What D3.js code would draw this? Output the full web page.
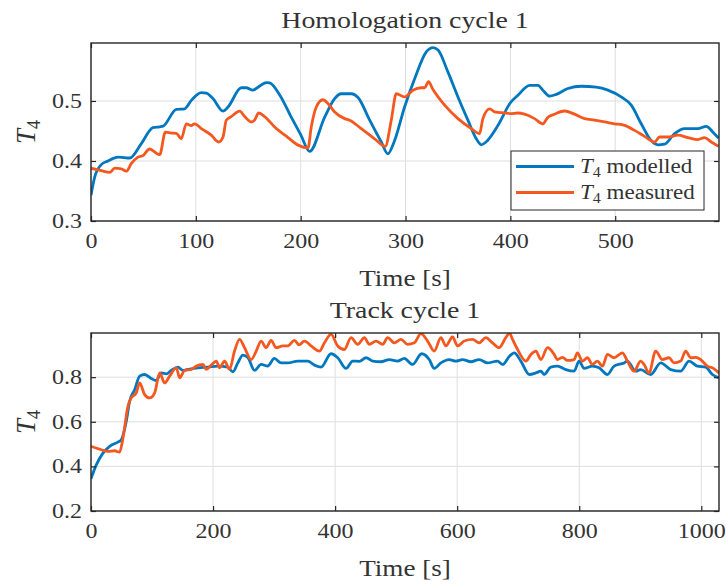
<!DOCTYPE html>
<html>
<head>
<meta charset="utf-8">
<script src="https://cdn.jsdelivr.net/npm/d3@7"></script>
<style>
body { margin: 0; background: #fff; }
text { font-family: "Liberation Serif", "Times New Roman", serif; fill: #333; }
</style>
</head>
<body>
<div id="chart"></div>
<script>
// Homologation cycle 1 - modelled T4
var homModTime = [0, 3.5, 9.8, 16.2, 25.7, 32, 36.9, 48, 59, 65.5, 68.7, 81.4, 89.3, 95.7, 105.2, 110, 116.3, 125.9, 130.7, 143.4, 148, 154.5, 159.3, 167.2, 170.4, 180, 191, 200, 208.5, 222.9, 232.4, 238.7, 248.3, 254.7, 265.8, 276.9, 283.2, 289.6, 299.1, 308.7, 319.8, 326.2, 331, 340.5, 350, 359.5, 367.5, 372.2, 377, 388.1, 400, 407.2, 418.4, 426.3, 431, 437.4, 443.8, 454.9, 467.6, 481.9, 493, 505.7, 515.3, 524.8, 534.3, 540.7, 547, 556.6, 566.2, 578.9, 586.8, 593.2, 598.6];
var homModelled = [0.343, 0.373, 0.394, 0.400, 0.4065, 0.4055, 0.405, 0.429, 0.4556, 0.457, 0.458, 0.486, 0.487, 0.501, 0.514, 0.513, 0.504, 0.483, 0.49, 0.522, 0.522, 0.518, 0.523, 0.5307, 0.530, 0.51, 0.473, 0.444, 0.416, 0.473, 0.504, 0.512, 0.512, 0.5057, 0.468, 0.4316, 0.412, 0.434, 0.49, 0.537, 0.582, 0.589, 0.585, 0.548, 0.5067, 0.468, 0.437, 0.427, 0.432, 0.459, 0.497, 0.5095, 0.526, 0.526, 0.518, 0.508, 0.511, 0.5207, 0.5245, 0.523, 0.518, 0.5067, 0.493, 0.462, 0.434, 0.427, 0.428, 0.4456, 0.454, 0.454, 0.4578, 0.448, 0.438];

// Homologation cycle 1 - measured T4
var homMeasTime = [0, 9.8, 17.8, 22.6, 28.9, 33.7, 38.4, 44.8, 49.6, 55.9, 60.7, 65.5, 70.9, 76.6, 81.4, 86.1, 90.9, 95.7, 98.8, 105.2, 114.7, 121.7, 125.9, 129, 133.8, 141.8, 146.6, 152.9, 156, 159.9, 165.6, 175.2, 187.9, 198, 207, 210.1, 214.9, 221.2, 226, 232.4, 241.9, 246.7, 257.8, 270.5, 280.7, 286.4, 291.2, 299.1, 307.1, 315, 318.2, 321.9, 326.2, 337.3, 350, 362.7, 370.6, 373.8, 380.2, 384.9, 394.5, 400, 407.2, 413.5, 423.1, 431, 435.8, 442.1, 451.7, 461.2, 470.8, 480.3, 489.9, 499.4, 508.9, 518.5, 528, 537.6, 542.3, 550.3, 559.8, 569.3, 578.9, 585.2, 591.6, 598.6];
var homMeasured = [0.388, 0.384, 0.381, 0.388, 0.387, 0.383, 0.3955, 0.4065, 0.409, 0.42, 0.415, 0.4105, 0.448, 0.4466, 0.446, 0.437, 0.462, 0.459, 0.462, 0.454, 0.443, 0.4316, 0.44, 0.468, 0.474, 0.483, 0.474, 0.465, 0.468, 0.48, 0.474, 0.4566, 0.439, 0.426, 0.422, 0.4566, 0.49, 0.502, 0.4957, 0.4816, 0.4706, 0.468, 0.454, 0.437, 0.4244, 0.468, 0.512, 0.5067, 0.518, 0.522, 0.522, 0.532, 0.519, 0.493, 0.4706, 0.454, 0.4456, 0.4706, 0.487, 0.482, 0.48, 0.479, 0.48, 0.478, 0.4706, 0.462, 0.473, 0.478, 0.4833, 0.478, 0.4706, 0.468, 0.465, 0.462, 0.4594, 0.451, 0.441, 0.4316, 0.44, 0.44, 0.443, 0.439, 0.4356, 0.439, 0.4316, 0.4244];

// Track cycle 1 - modelled T4
var trkModTime = [0, 8.7, 19.6, 30.6, 44.2, 49.6, 57.8, 63.3, 71.5, 79.7, 87.9, 98.7, 106.9, 115.1, 123.3, 131.4, 142.4, 150.5, 158.7, 175.1, 191.5, 207.9, 224.2, 232.4, 240.6, 248.8, 257, 267.9, 278.7, 289.6, 300.5, 311.5, 322.4, 338.8, 355.2, 366.1, 377, 393.3, 404.3, 417.9, 428.8, 439.7, 450.6, 461.5, 475.1, 488.8, 502.4, 513.3, 526.9, 541.7, 554.2, 562.4, 573.3, 586.9, 597.8, 608.7, 622.4, 636, 649.6, 666, 674.3, 686, 693.5, 704.3, 718, 728.9, 737.1, 742.5, 753.4, 764.3, 777.9, 791.6, 799.8, 808, 821.6, 832.5, 846.2, 857.1, 873.5, 878.9, 892.5, 900.7, 917.1, 933.5, 949.9, 966.2, 979.9, 993.5, 1007.2, 1018.1, 1029];
var trkModelled = [0.345, 0.407, 0.4596, 0.49, 0.509, 0.519, 0.602, 0.692, 0.744, 0.8046, 0.812, 0.794, 0.785, 0.819, 0.815, 0.83, 0.845, 0.83, 0.8345, 0.842, 0.845, 0.8495, 0.845, 0.824, 0.864, 0.899, 0.888, 0.83, 0.857, 0.85, 0.884, 0.864, 0.864, 0.872, 0.872, 0.854, 0.845, 0.905, 0.887, 0.839, 0.872, 0.871, 0.887, 0.872, 0.869, 0.879, 0.872, 0.884, 0.857, 0.905, 0.879, 0.839, 0.864, 0.879, 0.872, 0.879, 0.869, 0.879, 0.864, 0.872, 0.857, 0.895, 0.909, 0.872, 0.812, 0.819, 0.827, 0.812, 0.845, 0.8495, 0.834, 0.827, 0.872, 0.839, 0.8495, 0.842, 0.812, 0.8495, 0.864, 0.872, 0.827, 0.834, 0.812, 0.864, 0.834, 0.827, 0.872, 0.8495, 0.845, 0.812, 0.797];

// Track cycle 1 - measured T4
var trkMeasTime = [0, 16.9, 27.8, 38.7, 46.9, 52.4, 60.6, 66, 74.2, 79.7, 87.9, 96.1, 104.3, 112.5, 120.7, 128.8, 139.8, 145.2, 153.4, 164.3, 172.5, 183.5, 188.9, 197.1, 205.3, 210.7, 218.9, 227, 235.2, 243.4, 251.6, 262.5, 270.7, 278.7, 286.9, 295.1, 303.3, 314.2, 322.4, 333.4, 341, 349.7, 360.7, 374.3, 382.5, 393.3, 404.3, 415.2, 426.1, 437, 447.9, 456.1, 467, 477.9, 486.1, 497, 507.9, 518.8, 529.7, 540.6, 551.5, 562.4, 573.3, 581.5, 592.4, 600.6, 611.5, 625.1, 636, 646.9, 657.8, 668.7, 679.6, 686, 690.7, 699, 712.6, 720.8, 729, 737.1, 748, 758.9, 764.3, 772.5, 780.7, 791.6, 797, 805.2, 813.4, 821.6, 829.8, 838, 846.2, 857.1, 870.7, 878.9, 889.8, 900.7, 906.2, 914.3, 925.3, 936.2, 947.1, 955.3, 966.2, 974.4, 982.6, 990.8, 999, 1009.8, 1018.1, 1029];
var trkMeasured = [0.49, 0.4745, 0.467, 0.47, 0.464, 0.527, 0.67, 0.707, 0.73, 0.774, 0.722, 0.707, 0.73, 0.819, 0.774, 0.8046, 0.842, 0.797, 0.83, 0.8345, 0.8495, 0.857, 0.8345, 0.854, 0.872, 0.842, 0.872, 0.8345, 0.917, 0.969, 0.932, 0.879, 0.917, 0.962, 0.932, 0.965, 0.932, 0.94, 0.94, 0.965, 0.945, 0.962, 0.94, 0.917, 0.954, 0.992, 0.94, 0.924, 0.977, 0.947, 0.977, 0.947, 0.962, 0.947, 0.977, 0.954, 0.969, 0.947, 0.954, 0.995, 0.962, 0.917, 0.977, 0.94, 0.98, 0.94, 0.962, 0.969, 0.954, 0.977, 0.954, 0.932, 0.977, 0.997, 0.969, 0.924, 0.872, 0.902, 0.917, 0.879, 0.932, 0.902, 0.879, 0.889, 0.875, 0.879, 0.909, 0.872, 0.887, 0.857, 0.872, 0.8495, 0.902, 0.887, 0.909, 0.872, 0.827, 0.872, 0.857, 0.819, 0.917, 0.879, 0.887, 0.864, 0.872, 0.917, 0.887, 0.889, 0.879, 0.8495, 0.842, 0.819];

// ticks
var homXTicks = [0, 100, 200, 300, 400, 500];
var homYTicks = [0.3, 0.4, 0.5];
var trkXTicks = [0, 200, 400, 600, 800, 1000];
var trkYTicks = [0.2, 0.4, 0.6, 0.8];

var seriesNames = ["modelled", "measured"];
var colors = ["#0077bf", "#f4581f"];

var width = 726, height = 585;
var svg = d3.select("#chart").append("svg")
    .attr("width", width)
    .attr("height", height);

// stretch text horizontally (the reference is rendered wide)
function widen(sel, k) {
    sel.each(function() {
        var len = this.getComputedTextLength();
        d3.select(this)
            .attr("textLength", len * k)
            .attr("lengthAdjust", "spacingAndGlyphs");
    });
}

function drawPanel(p) {
    var g = svg.append("g")
        .attr("transform", "translate(" + p.left + "," + p.top + ")");

    var x = d3.scaleLinear().domain(p.xDomain).range([0, p.w]);
    var y = d3.scaleLinear().domain(p.yDomain).range([p.h, 0]);

    // grid
    g.append("g").selectAll("line").data(p.xTicks).enter().append("line")
        .attr("x1", function(d) { return x(d); })
        .attr("x2", function(d) { return x(d); })
        .attr("y1", 0).attr("y2", p.h)
        .attr("stroke", "#dedede").attr("stroke-width", 1);
    g.append("g").selectAll("line").data(p.yTicks).enter().append("line")
        .attr("y1", function(d) { return y(d); })
        .attr("y2", function(d) { return y(d); })
        .attr("x1", 0).attr("x2", p.w)
        .attr("stroke", "#dedede").attr("stroke-width", 1);

    // lines
    var clipId = "clip-" + p.id;
    g.append("clipPath").attr("id", clipId)
        .append("rect").attr("width", p.w).attr("height", p.h);

    var line = d3.line()
        .curve(d3.curveMonotoneX)
        .x(function(d) { return x(d[0]); })
        .y(function(d) { return y(d[1]); });

    p.series.forEach(function(s, i) {
        var pts = s.t.map(function(t, j) { return [t, s.v[j]]; });
        g.append("path")
            .datum(pts)
            .attr("clip-path", "url(#" + clipId + ")")
            .attr("fill", "none")
            .attr("stroke", colors[i])
            .attr("stroke-width", 2.8)
            .attr("stroke-linejoin", "round")
            .attr("d", line);
    });

    // axes, ticks inside on all four sides
    var fmt = p.fmt;
    var xb = g.append("g").attr("transform", "translate(0," + p.h + ")")
        .call(d3.axisBottom(x).tickValues(p.xTicks).tickFormat(fmt.x)
            .tickSize(-5).tickSizeOuter(0).tickPadding(13));
    var xt = g.append("g")
        .call(d3.axisTop(x).tickValues(p.xTicks).tickFormat("")
            .tickSize(-5).tickSizeOuter(0));
    var yl = g.append("g")
        .call(d3.axisLeft(y).tickValues(p.yTicks).tickFormat(fmt.y)
            .tickSize(-5).tickSizeOuter(0).tickPadding(9));
    var yr = g.append("g").attr("transform", "translate(" + p.w + ",0)")
        .call(d3.axisRight(y).tickValues(p.yTicks).tickFormat("")
            .tickSize(-5).tickSizeOuter(0));

    [xb, xt, yl, yr].forEach(function(a) {
        a.attr("color", "#262626");
        a.select(".domain").remove();
        a.selectAll(".tick line").attr("stroke-width", 1.2);
        a.selectAll("text")
            .attr("font-size", 20);
    });
    widen(xb.selectAll("text"), 1.2);
    widen(yl.selectAll("text"), 1.2);

    g.append("rect")
        .attr("width", p.w).attr("height", p.h)
        .attr("fill", "none")
        .attr("stroke", "#262626")
        .attr("stroke-width", 1.4);

    // title
    var title = g.append("text")
        .attr("x", p.w / 2).attr("y", -15)
        .attr("text-anchor", "middle")
        .attr("font-size", 24)
        .text(p.title);
    widen(title, 1.16);

    // x label
    var xlab = g.append("text")
        .attr("x", p.w / 2).attr("y", p.h + 65)
        .attr("text-anchor", "middle")
        .attr("font-size", 24)
        .text("Time [s]");
    widen(xlab, 1.13);

    // y label
    var ylab = g.append("text")
        .attr("transform", "translate(-56," + (p.h / 2) + ") rotate(-90)")
        .attr("text-anchor", "middle")
        .attr("font-size", 27);
    ylab.append("tspan").attr("font-style", "italic").text("T");
    ylab.append("tspan").attr("font-size", 18).attr("dy", 5).text("4");

    return { g: g, x: x, y: y };
}

var top1 = drawPanel({
    id: "hom", left: 91, top: 43, w: 628, h: 178,
    xDomain: [0, 599], yDomain: [0.3, 0.5966],
    xTicks: homXTicks, yTicks: homYTicks,
    fmt: { x: d3.format("d"), y: d3.format(".1f") },
    title: "Homologation cycle 1",
    series: [
        { t: homModTime, v: homModelled },
        { t: homMeasTime, v: homMeasured }
    ]
});

drawPanel({
    id: "trk", left: 91, top: 333, w: 628, h: 178,
    xDomain: [0, 1029], yDomain: [0.2, 0.998],
    xTicks: trkXTicks, yTicks: trkYTicks,
    fmt: { x: d3.format("d"), y: d3.format(".1f") },
    title: "Track cycle 1",
    series: [
        { t: trkModTime, v: trkModelled },
        { t: trkMeasTime, v: trkMeasured }
    ]
});

// legend in the top panel
var leg = top1.g.append("g").attr("transform", "translate(420,108)");
leg.append("rect")
    .attr("width", 193).attr("height", 59)
    .attr("fill", "#fff")
    .attr("stroke", "#262626")
    .attr("stroke-width", 1);
seriesNames.forEach(function(name, i) {
    var yy = 15.5 + i * 26;
    leg.append("line")
        .attr("x1", 5).attr("x2", 63)
        .attr("y1", yy).attr("y2", yy)
        .attr("stroke", colors[i]).attr("stroke-width", 2.8);
    var t = leg.append("text")
        .attr("x", 69).attr("y", yy + 6)
        .attr("font-size", 20);
    t.append("tspan").attr("font-style", "italic").text("T");
    t.append("tspan").attr("font-size", 14).attr("dy", 4).text("4");
    t.append("tspan").attr("dy", -4).text(" " + name);
    widen(t, 1.15);
});
</script>
</body>
</html>
